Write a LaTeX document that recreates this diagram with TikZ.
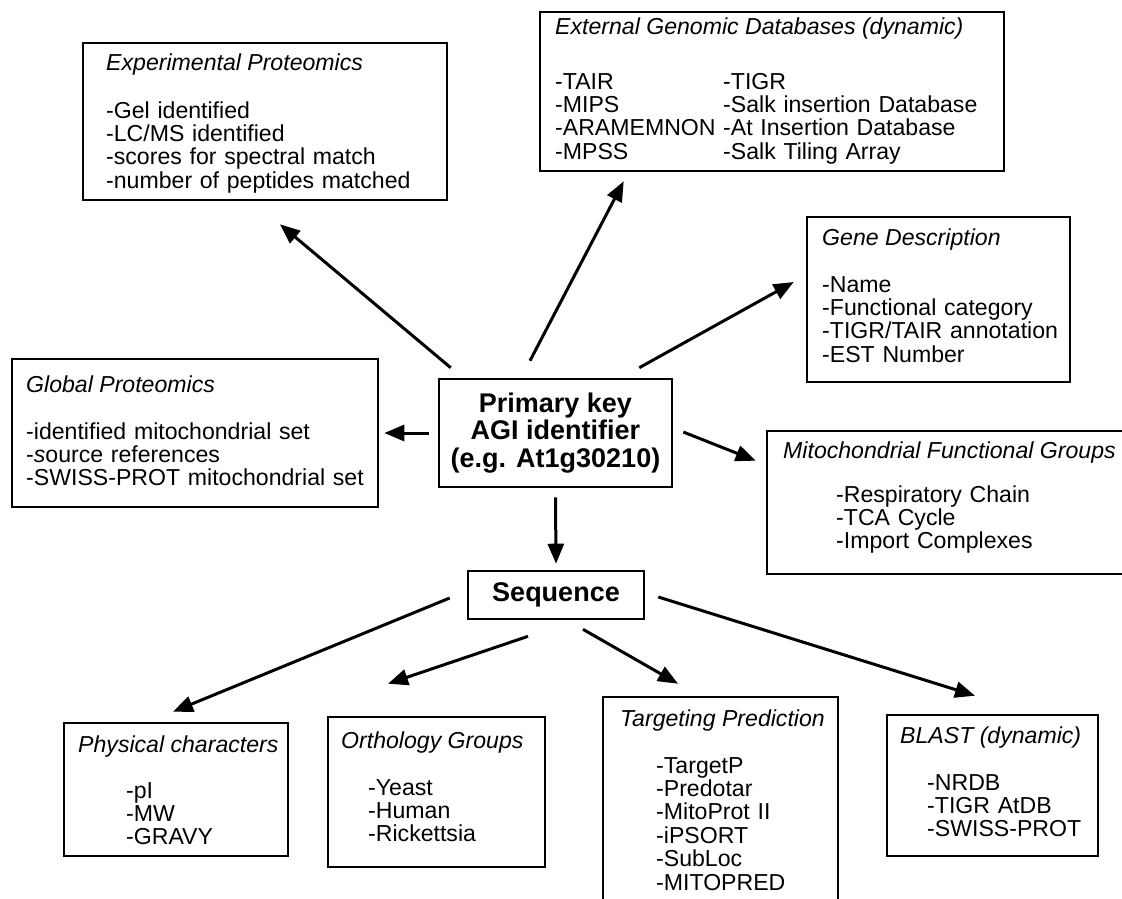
\documentclass[tikz,border=0pt]{standalone}
\usepackage{fontspec}
\setmainfont{Liberation Sans}
\usepackage{tikz}
\usetikzlibrary{arrows.meta,calc,positioning}
\newcommand{\txtsize}{\fontsize{23.1}{23.4}\selectfont}
\newcommand{\keysize}{\fontsize{27}{27.5}\selectfont\bfseries}
\tikzset{panel/.style={draw,line width=2.6pt,inner sep=0pt},
  keybox/.style={panel,font=\keysize,align=center},
  ttl/.style={anchor=base west,inner sep=0pt,font=\txtsize\itshape},
  lst/.style={anchor=base west,inner sep=0pt,text width=420pt,align=left,font=\txtsize},
  arr/.style={-{Triangle[length=20pt,width=16pt]},line width=3pt}}

\begin{document}
\begin{tikzpicture}[x=1pt,y=-1pt,line join=miter]
\useasboundingbox (0,0) rectangle (1122,898);
% --- key in the middle
\node[keybox,minimum width=233pt,minimum height=108pt] (prim) at (555.5,433) {Primary key\\AGI identifier\\(e.g. At1g30210)};
% --- boxes around the key
\node[panel,minimum width=364pt,minimum height=157pt] (exp) at (265,121.5) {};
\node[ttl] at (106,70) {Experimental Proteomics};
\node[lst] at (106,118) {-Gel identified\\-LC/MS identified\\-scores for spectral match\\-number of peptides matched};
\node[panel,minimum width=464pt,minimum height=159pt] (ext) at (772,91.5) {};
\node[ttl] at (555,34) {External Genomic Databases (dynamic)};
\node[lst] at (555,89) {-TAIR\\-MIPS\\-ARAMEMNON\\-MPSS};
\node[lst] at (723,89) {-TIGR\\-Salk insertion Database\\-At Insertion Database\\-Salk Tiling Array};
\node[panel,minimum width=263pt,minimum height=165pt] (gene) at (938.5,299.5) {};
\node[ttl] at (822,245) {Gene Description};
\node[lst] at (822,292) {-Name\\-Functional category\\-TIGR/TAIR annotation\\-EST Number};
\node[panel,minimum width=366pt,minimum height=148pt] (glob) at (195,433) {};
\node[ttl] at (26,392) {Global Proteomics};
\node[lst] at (26,439) {-identified mitochondrial set\\-\textit{s}ource references\\-SWISS-PROT mitochondrial set};
\node[panel,minimum width=373pt,minimum height=143pt] (mito) at (953.5,502.5) {};
\node[ttl] at (783,458) {Mitochondrial Functional Groups};
\node[lst] at (836,502) {-Respiratory Chain\\-TCA Cycle\\-Import Complexes};
% --- sequence and the boxes below it
\node[keybox,minimum width=176pt,minimum height=48pt] (seq) at (556,595) {Sequence};
\node[panel,minimum width=224pt,minimum height=133pt] (phys) at (176,789.5) {};
\node[ttl] at (78,752) {Physical characters};
\node[lst] at (126,798) {-pI\\-MW\\-GRAVY};
\node[panel,minimum width=217pt,minimum height=150pt] (orth) at (436.5,792) {};
\node[ttl] at (341,748) {Orthology Groups};
\node[lst] at (368,795) {-Yeast\\-Human\\-Rickettsia};
\node[panel,minimum width=235pt,minimum height=218pt] (targ) at (720.5,806) {};
\node[ttl] at (620,726) {Targeting Prediction};
\node[lst] at (656,773) {-TargetP\\-Predotar\\-MitoProt II\\-iPSORT\\-SubLoc\\-MITOPRED};
\node[panel,minimum width=211pt,minimum height=141pt] (blast) at (992.5,785.5) {};
\node[ttl] at (900,743) {BLAST (dynamic)};
\node[lst] at (927,790) {-NRDB\\-TIGR AtDB\\-SWISS-PROT};
% --- arrows out of the key
\draw[arr] ($(prim.north west)+(13,-10)$) -- ($(exp.south)+(15,23)$);
\draw[arr] ($(prim.north)+(-25.5,-17)$) -- ($(ext.south west)+(85,9)$);
\draw[arr] ($(prim.north east)+(-34,-10)$) -- ($(gene.west)+(-12,-17.5)$);
\draw[arr] ($(prim.west)+(-9,0)$) -- ($(glob.east)+(5,0)$);
\draw[arr] ($(prim.east)+(10,-1)$) -- ($(mito.north west)+(-10,31)$);
\draw[arr] ($(prim.south)+(0,9)$) -- ($(seq.north)+(0,-6)$);
% --- arrows out of the sequence
\draw[arr] ($(seq.west)+(-17,3)$) -- ($(phys.north)+(-3,-10)$);
\draw[arr] ($(seq.south)+(-28,16)$) -- ($(orth.north)+(-48.5,-32)$);
\draw[arr] ($(seq.south)+(27,9)$) -- ($(targ.north)+(-42.5,-12)$);
\draw[arr] ($(seq.east)+(13,2)$) -- ($(blast.north)+(-17.5,-18)$);
\end{tikzpicture}
\end{document}
